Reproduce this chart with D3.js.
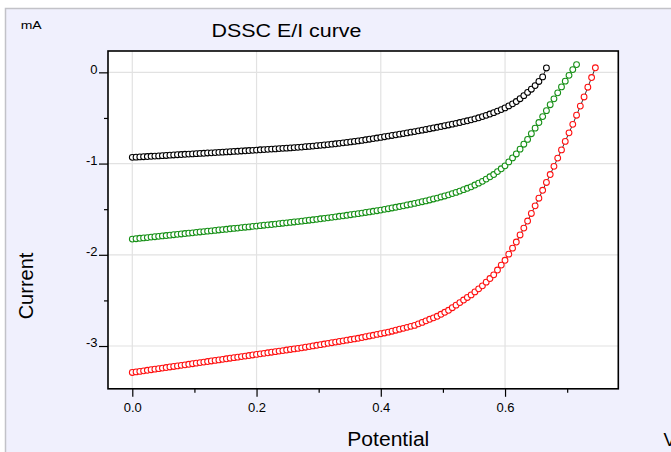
<!DOCTYPE html>
<html>
<head>
<meta charset="utf-8">
<script src="https://cdn.jsdelivr.net/npm/d3@7"></script>
<style>
  html, body { margin: 0; padding: 0; background: #fff; }
  svg text { font-family: "Liberation Sans", Arial, sans-serif; fill: #000; }
</style>
</head>
<body>
<div id="chart"></div>
<script>
'use strict';

// sampling step of the sweep, volts
const potentialStep = 0.00606;

// current in mA, one value per step
const blackCurrent = [
  -0.932,-0.930,-0.927,-0.925,-0.923,-0.920,-0.918,-0.916,-0.913,-0.911,-0.908,-0.906,
  -0.903,-0.901,-0.898,-0.896,-0.894,-0.891,-0.889,-0.887,-0.884,-0.882,-0.880,-0.877,
  -0.875,-0.872,-0.870,-0.867,-0.865,-0.862,-0.860,-0.857,-0.855,-0.852,-0.849,-0.847,
  -0.844,-0.841,-0.839,-0.836,-0.833,-0.831,-0.828,-0.825,-0.822,-0.819,-0.815,-0.812,
  -0.808,-0.804,-0.800,-0.796,-0.792,-0.787,-0.783,-0.778,-0.773,-0.768,-0.763,-0.757,
  -0.752,-0.746,-0.739,-0.733,-0.726,-0.720,-0.713,-0.706,-0.699,-0.692,-0.685,-0.678,
  -0.671,-0.664,-0.656,-0.649,-0.641,-0.634,-0.626,-0.618,-0.610,-0.602,-0.594,-0.585,
  -0.577,-0.568,-0.559,-0.550,-0.540,-0.531,-0.521,-0.510,-0.498,-0.485,-0.471,-0.457,
  -0.442,-0.425,-0.408,-0.390,-0.368,-0.345,-0.320,-0.289,-0.256,-0.220,-0.185,-0.145,
  -0.100,-0.050,0.048
];

const greenCurrent = [
  -1.828,-1.824,-1.819,-1.815,-1.811,-1.806,-1.802,-1.798,-1.793,-1.789,-1.785,-1.780,
  -1.776,-1.772,-1.767,-1.763,-1.759,-1.754,-1.750,-1.746,-1.741,-1.737,-1.733,-1.728,
  -1.724,-1.720,-1.715,-1.711,-1.707,-1.702,-1.698,-1.694,-1.689,-1.685,-1.681,-1.676,
  -1.672,-1.668,-1.663,-1.659,-1.654,-1.650,-1.645,-1.640,-1.636,-1.631,-1.626,-1.621,
  -1.616,-1.611,-1.605,-1.600,-1.595,-1.589,-1.584,-1.578,-1.573,-1.567,-1.561,-1.555,
  -1.549,-1.543,-1.536,-1.530,-1.523,-1.517,-1.510,-1.502,-1.495,-1.487,-1.479,-1.471,
  -1.463,-1.454,-1.446,-1.437,-1.428,-1.418,-1.409,-1.399,-1.388,-1.378,-1.366,-1.355,
  -1.343,-1.329,-1.316,-1.302,-1.286,-1.271,-1.255,-1.235,-1.215,-1.195,-1.170,-1.145,
  -1.120,-1.088,-1.057,-1.025,-0.982,-0.938,-0.895,-0.842,-0.788,-0.735,-0.673,-0.612,
  -0.550,-0.485,-0.420,-0.355,-0.290,-0.225,-0.160,-0.097,-0.033,
  0.030,0.085
];

const redCurrent = [
  -3.290,-3.284,-3.278,-3.272,-3.266,-3.260,-3.254,-3.248,-3.242,-3.236,-3.230,-3.224,
  -3.218,-3.212,-3.206,-3.200,-3.194,-3.188,-3.182,-3.176,-3.170,-3.164,-3.158,-3.152,
  -3.146,-3.140,-3.134,-3.128,-3.122,-3.116,-3.110,-3.104,-3.098,-3.092,-3.086,-3.080,
  -3.074,-3.068,-3.062,-3.056,-3.050,-3.044,-3.038,-3.032,-3.026,-3.020,-3.013,-3.006,
  -2.999,-2.992,-2.985,-2.978,-2.971,-2.964,-2.957,-2.950,-2.943,-2.936,-2.929,-2.922,
  -2.915,-2.907,-2.898,-2.890,-2.882,-2.873,-2.865,-2.857,-2.848,-2.838,-2.827,-2.816,
  -2.806,-2.795,-2.784,-2.774,-2.757,-2.741,-2.724,-2.707,-2.691,-2.674,-2.652,-2.630,
  -2.608,-2.580,-2.552,-2.524,-2.496,-2.468,-2.440,-2.407,-2.373,-2.340,-2.300,-2.260,
  -2.220,-2.167,-2.113,-2.060,-1.993,-1.927,-1.860,-1.783,-1.707,-1.630,-1.547,-1.463,
  -1.380,-1.293,-1.207,-1.120,-1.030,-0.940,-0.850,-0.757,-0.663,-0.570,-0.470,-0.370,
  -0.270,-0.163,-0.057,0.050
];

const xTicks      = [0, 0.2, 0.4, 0.6];
const xMinorTicks = [0.1, 0.3, 0.5, 0.7];
const yTicks      = [0, -1, -2, -3];
const yMinorTicks = [-0.5, -1.5, -2.5];

class IVChart
{
    constructor (id)
    {
        this.id = id;
        this.left = 108; this.right = 618.3;
        this.top = 51;   this.bottom = 388.8;
        this.series = [
            { values: blackCurrent, color: '#000000', line: '#000000' },
            { values: greenCurrent, color: '#169016', line: '#0c5a0c' },
            { values: redCurrent,   color: '#ff1010', line: '#000000' }
        ];
    }

    appendFrame (svg)
    {
        svg.append('rect')
            .attr('x', 5.5).attr('y', 8.5)
            .attr('width', 720).attr('height', 500)
            .style('fill', '#f0f0fd')
            .style('stroke', '#c2c2c8')
            .style('stroke-width', 1.5);

        svg.append('rect')
            .attr('x', this.left).attr('y', this.top)
            .attr('width', this.right - this.left)
            .attr('height', this.bottom - this.top)
            .style('fill', '#ffffff');
    }

    appendGrid (svg)
    {
        svg.selectAll('line.gx')
            .data(xTicks)
            .enter().append('line')
            .attr('x1', d => this.xScale(d)).attr('x2', d => this.xScale(d))
            .attr('y1', this.top).attr('y2', this.bottom)
            .style('stroke', '#e2e2e2').style('stroke-width', 1.2);

        svg.selectAll('line.gy')
            .data(yTicks)
            .enter().append('line')
            .attr('y1', d => this.yScale(d)).attr('y2', d => this.yScale(d))
            .attr('x1', this.left).attr('x2', this.right)
            .style('stroke', '#e2e2e2').style('stroke-width', 1.2);
    }

    appendCurves (svg)
    {
        let line = d3.line()
            .x((d, i) => this.xScale(i * potentialStep))
            .y(d => this.yScale(d));

        this.series.forEach(s =>
        {
            let g = svg.append('g');

            g.append('path')
                .attr('d', line(s.values))
                .style('fill', 'none')
                .style('stroke', s.line)
                .style('stroke-width', 0.8);

            g.selectAll('circle')
                .data(s.values)
                .enter()
                .append('circle')
                .attr('cx', (d, i) => this.xScale(i * potentialStep))
                .attr('cy', d => this.yScale(d))
                .attr('r', 2.9)
                .style('fill', '#ffffff')
                .style('stroke', s.color)
                .style('stroke-width', 1.05);
        });
    }

    appendAxes (svg)
    {
        svg.append('rect')
            .attr('x', this.left).attr('y', this.top)
            .attr('width', this.right - this.left)
            .attr('height', this.bottom - this.top)
            .style('fill', 'none')
            .style('stroke', '#000')
            .style('stroke-width', 1.6);

        let yAxis = svg.append('g')
            .attr('transform', `translate(${this.left},0)`)
            .call(d3.axisLeft(this.yScale).tickValues(yTicks).tickSize(9).tickPadding(1.5).tickFormat(d => String(d)));

        svg.append('g')
            .attr('transform', `translate(${this.left},0)`)
            .call(d3.axisLeft(this.yScale).tickValues(yMinorTicks).tickSize(4).tickFormat(''));

        let xAxis = svg.append('g')
            .attr('transform', `translate(0,${this.bottom})`)
            .call(d3.axisBottom(this.xScale).tickValues(xTicks).tickSize(8).tickFormat(d3.format('.1f')));

        svg.append('g')
            .attr('transform', `translate(0,${this.bottom})`)
            .call(d3.axisBottom(this.xScale).tickValues(xMinorTicks).tickSize(4).tickFormat(''));

        svg.selectAll('.domain').remove();
        svg.selectAll('.tick line').style('stroke', '#000').style('stroke-width', 1.2);

        yAxis.selectAll('text')
            .attr('dy', '0.05em')
            .style('font-size', '13px')
            .style('font-family', '"Liberation Sans", Arial, sans-serif');

        xAxis.selectAll('text')
            .attr('y', 22.8)
            .attr('dy', 0)
            .style('font-size', '13px')
            .style('font-family', '"Liberation Sans", Arial, sans-serif');
    }

    appendTexts (svg)
    {
        svg.append('text')
            .attr('x', 211.5).attr('y', 37.3)
            .attr('textLength', 150).attr('lengthAdjust', 'spacingAndGlyphs')
            .style('font-size', '17.5px')
            .text('DSSC E/I curve');

        svg.append('text')
            .attr('x', 20.7).attr('y', 28.7)
            .attr('textLength', 21).attr('lengthAdjust', 'spacingAndGlyphs')
            .style('font-size', '10.5px')
            .text('mA');

        svg.append('text')
            .attr('transform', 'translate(33.3,286) rotate(-90)')
            .attr('text-anchor', 'middle')
            .style('font-size', '20px')
            .text('Current');

        svg.append('text')
            .attr('x', 347.3).attr('y', 446)
            .attr('textLength', 82).attr('lengthAdjust', 'spacingAndGlyphs')
            .style('font-size', '20px')
            .text('Potential');

        svg.append('text')
            .attr('x', 663.6).attr('y', 446)
            .style('font-size', '18.5px')
            .text('V');
    }

    build ()
    {
        let svg = d3.select('#' + this.id)
            .append('svg')
            .attr('width', 671)
            .attr('height', 452);

        this.xScale = d3.scaleLinear().domain([-0.0391, 0.7823]).range([this.left, this.right]);
        this.yScale = d3.scaleLinear().domain([0.234, -3.469]).range([this.top, this.bottom]);

        this.appendFrame(svg);
        this.appendGrid(svg);
        this.appendCurves(svg);
        this.appendAxes(svg);
        this.appendTexts(svg);
        return this;
    }
}

new IVChart('chart').build();
</script>
</body>
</html>
